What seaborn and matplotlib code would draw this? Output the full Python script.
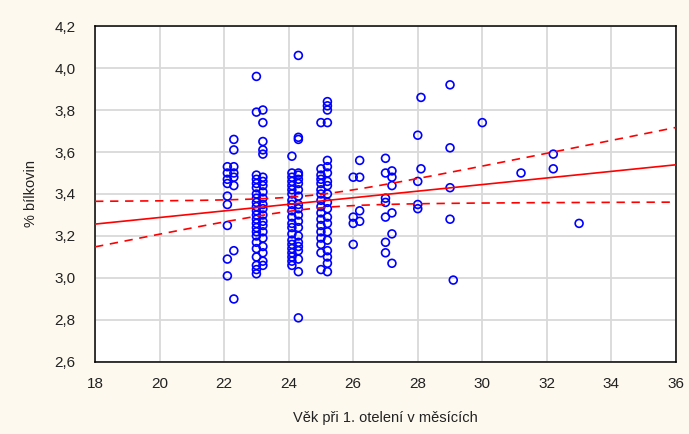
import numpy as np
import pandas as pd
import matplotlib
matplotlib.use("Agg")
import matplotlib.pyplot as plt
import seaborn as sns
from matplotlib.ticker import MultipleLocator, FuncFormatter

# ---- data ----
age_22_1 = [3.53, 3.50, 3.47, 3.45, 3.39, 3.35, 3.25, 3.09, 3.01]
age_22_3 = [3.66, 3.61, 3.53, 3.50, 3.48, 3.44, 3.13, 2.90]
age_23_0 = [3.96, 3.79, 3.49, 3.47, 3.45, 3.43, 3.40, 3.38, 3.36, 3.34, 3.32, 3.30,
            3.28, 3.26, 3.24, 3.22, 3.20, 3.17, 3.14, 3.10, 3.06, 3.04, 3.02]
age_23_2 = [3.80, 3.74, 3.65, 3.61, 3.59, 3.48, 3.46, 3.44, 3.41, 3.38, 3.35, 3.33,
            3.30, 3.27, 3.25, 3.22, 3.19, 3.15, 3.12, 3.08, 3.06]
age_24_1 = [3.58, 3.50, 3.48, 3.46, 3.44, 3.42, 3.40, 3.37, 3.35, 3.32, 3.29, 3.26,
            3.24, 3.21, 3.18, 3.16, 3.14, 3.12, 3.10, 3.08, 3.06]
age_24_3 = [4.06, 3.67, 3.66, 3.50, 3.49, 3.47, 3.45, 3.42, 3.39, 3.35, 3.33, 3.30,
            3.27, 3.24, 3.20, 3.17, 3.15, 3.13, 3.09, 3.03, 2.81]
age_25_0 = [3.74, 3.52, 3.49, 3.47, 3.45, 3.42, 3.40, 3.37, 3.34, 3.31, 3.28, 3.25,
            3.22, 3.19, 3.16, 3.12, 3.04]
age_25_2 = [3.84, 3.82, 3.80, 3.74, 3.56, 3.53, 3.50, 3.46, 3.44, 3.40, 3.36, 3.33,
            3.29, 3.26, 3.22, 3.18, 3.13, 3.10, 3.07, 3.03]
age_26_0 = [3.48, 3.29, 3.26, 3.16]
age_26_2 = [3.56, 3.48, 3.32, 3.27]
age_27_0 = [3.57, 3.50, 3.38, 3.36, 3.29, 3.17, 3.12]
age_27_2 = [3.51, 3.48, 3.44, 3.31, 3.21, 3.07]
age_28_0 = [3.68, 3.46, 3.35, 3.33]
age_28_1 = [3.86, 3.52]
age_29_0 = [3.92, 3.62, 3.43, 3.28]
age_29_1 = [2.99]
age_30_0 = [3.74]
age_31_2 = [3.50]
age_32_2 = [3.59, 3.52]
age_33_0 = [3.26]

groups = {
    22.1: age_22_1, 22.3: age_22_3, 23.0: age_23_0, 23.2: age_23_2,
    24.1: age_24_1, 24.3: age_24_3, 25.0: age_25_0, 25.2: age_25_2,
    26.0: age_26_0, 26.2: age_26_2, 27.0: age_27_0, 27.2: age_27_2,
    28.0: age_28_0, 28.1: age_28_1, 29.0: age_29_0, 29.1: age_29_1,
    30.0: age_30_0, 31.2: age_31_2, 32.2: age_32_2, 33.0: age_33_0,
}

x_ticks = [18, 20, 22, 24, 26, 28, 30, 32, 34, 36]
y_ticks = [2.6, 2.8, 3.0, 3.2, 3.4, 3.6, 3.8, 4.0, 4.2]
x_label = "Věk při 1. otelení v měsících"
y_label = "% bílkovin"

rows = [(k, v) for k, vals in groups.items() for v in vals]
df = pd.DataFrame(rows, columns=["age", "protein"])

# ---- linear regression with 95% confidence band ----
x = df["age"].to_numpy()
y = df["protein"].to_numpy()
n = len(x)
b1, b0 = np.polyfit(x, y, 1)
resid = y - (b0 + b1 * x)
s = np.sqrt(np.sum(resid ** 2) / (n - 2))
xg = np.linspace(x_ticks[0], x_ticks[-1], 200)
yg = b0 + b1 * xg
se = s * np.sqrt(1 / n + (xg - x.mean()) ** 2 / np.sum((x - x.mean()) ** 2))
tval = 1.974
fit = pd.DataFrame({"age": xg, "fit": yg, "lo": yg - tval * se, "hi": yg + tval * se})

# ---- plot ----
sns.set_style("white")
plt.rcParams["font.family"] = ["Liberation Sans", "DejaVu Sans"]

bg = "#fdf9ef"
fig = plt.figure(figsize=(6.89, 4.34), dpi=100, facecolor=bg)
ax = fig.add_axes([0.138, 0.166, 0.843, 0.774])
ax.set_facecolor("white")

sns.scatterplot(data=df, x="age", y="protein", ax=ax, marker="o", s=32,
                facecolors="none", edgecolor="#0000ff", linewidth=1.2, zorder=3)
sns.lineplot(data=fit, x="age", y="fit", ax=ax, color="#ff0000", lw=1.2, zorder=4)
sns.lineplot(data=fit, x="age", y="lo", ax=ax, color="#ff0000", lw=1.2, zorder=4)
ax.lines[-1].set_dashes([5, 4])
sns.lineplot(data=fit, x="age", y="hi", ax=ax, color="#ff0000", lw=1.2, zorder=4)
ax.lines[-1].set_dashes([5, 4])

ax.set_xlim(x_ticks[0], x_ticks[-1])
ax.set_ylim(y_ticks[0], y_ticks[-1])
ax.set_xticks(x_ticks)
ax.set_yticks(y_ticks)
ax.xaxis.set_minor_locator(MultipleLocator(1))
ax.yaxis.set_minor_locator(MultipleLocator(0.1))
ax.yaxis.set_major_formatter(FuncFormatter(lambda v, p: f"{v:.1f}".replace(".", ",")))
ax.xaxis.set_major_formatter(FuncFormatter(lambda v, p: f"{v:.0f}"))
ax.grid(True, which="major", color="#d9d9d9", lw=1.3, zorder=0)
ax.set_axisbelow(True)
ax.tick_params(which="both", direction="in", color="black", width=1,
               top=False, right=False)
ax.tick_params(axis="y", which="major", length=4, labelsize=11, pad=14,
               labelcolor="#222222")
ax.tick_params(axis="x", which="major", length=4, labelsize=11, pad=11,
               labelcolor="#222222")
ax.tick_params(which="minor", length=3)
for sp in ax.spines.values():
    sp.set_color("black")
    sp.set_linewidth(1.1)
ax.set_xlabel(x_label, fontsize=10.5, labelpad=14, color="#222222")
ax.set_ylabel(y_label, fontsize=10.5, labelpad=12, color="#222222")

fig.savefig("out.png", dpi=100, facecolor=bg)
